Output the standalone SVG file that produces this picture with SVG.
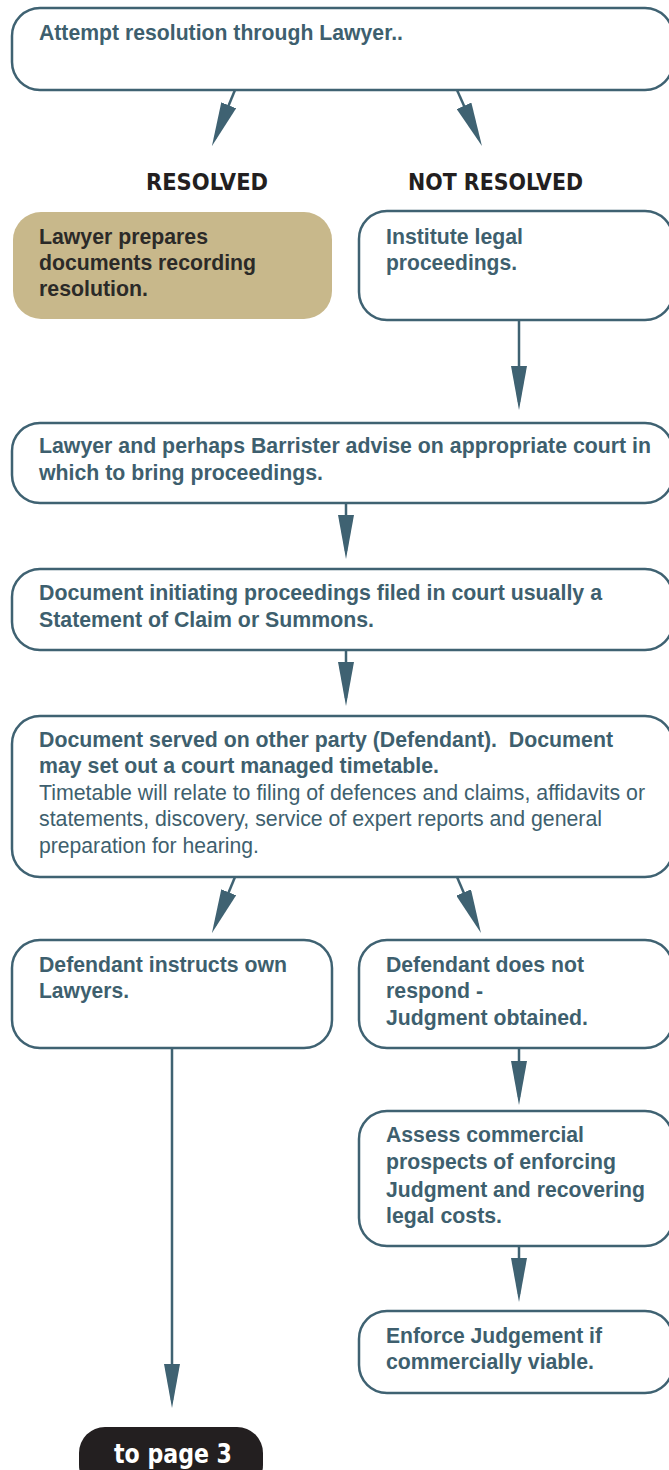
<svg xmlns="http://www.w3.org/2000/svg" width="669" height="1470" viewBox="0 0 669 1470">
<style>
.box{fill:#ffffff;stroke:#3f6272;stroke-width:2.5}
.tan{fill:#c8b88b;stroke:none}
.t{font-family:'Liberation Sans',Arial,Helvetica,sans-serif;font-size:21.3px;font-weight:700;fill:#3e5f6e}
.r{font-family:'Liberation Sans',Arial,Helvetica,sans-serif;font-size:21.3px;font-weight:400;fill:#3e5f6e}
.dk{fill:#2b2a28}
.hd{font-family:'DejaVu Sans Condensed','DejaVu Sans',sans-serif;font-size:23px;font-weight:700;fill:#231f20}
.pg{font-family:'DejaVu Sans Condensed','DejaVu Sans',sans-serif;font-size:27px;font-weight:700;fill:#ffffff}
.ln{stroke:#3f6272;stroke-width:2.5;fill:none;marker-end:url(#ah)}
</style>
<defs>
<marker id="ah" markerUnits="userSpaceOnUse" markerWidth="44" markerHeight="16" refX="36" refY="8" orient="auto" viewBox="0 0 44 16">
<path d="M0,0 L44,8 L0,16 z" fill="#3f6272"/>
</marker>
</defs>
<rect width="669" height="1470" fill="#ffffff"/>

<g id="connectors">
<line class="ln" x1="235" y1="90" x2="215" y2="138.6"/>
<line class="ln" x1="457" y1="90" x2="478.7" y2="138.7"/>
<line class="ln" x1="519" y1="320" x2="519" y2="402"/>
<line class="ln" x1="346" y1="503" x2="346" y2="551"/>
<line class="ln" x1="346" y1="650" x2="346" y2="698"/>
<line class="ln" x1="235" y1="877" x2="215" y2="925.6"/>
<line class="ln" x1="457" y1="877" x2="477.8" y2="925.6"/>
<line class="ln" x1="519" y1="1048" x2="519" y2="1097"/>
<line class="ln" x1="519" y1="1246" x2="519" y2="1294"/>
<line class="ln" x1="172" y1="1048" x2="172" y2="1400"/>
</g>

<g id="attempt">
<rect class="box" x="12" y="8" width="661" height="82" rx="28"/>
<text class="t" x="39" y="40" textLength="364" lengthAdjust="spacingAndGlyphs">Attempt resolution through Lawyer..</text>
</g>

<g id="label-resolved">
<text class="hd" x="146" y="190" textLength="122" lengthAdjust="spacingAndGlyphs">RESOLVED</text>
</g>
<g id="label-not-resolved">
<text class="hd" x="408" y="190" textLength="175" lengthAdjust="spacingAndGlyphs">NOT RESOLVED</text>
</g>

<g id="lawyer-prepares">
<rect class="tan" x="13" y="212" width="319" height="107" rx="28"/>
<text class="t dk" x="39" y="244" textLength="169" lengthAdjust="spacingAndGlyphs">Lawyer prepares</text>
<text class="t dk" x="39" y="270" textLength="217" lengthAdjust="spacingAndGlyphs">documents recording</text>
<text class="t dk" x="39" y="296" textLength="109" lengthAdjust="spacingAndGlyphs">resolution.</text>
</g>

<g id="institute">
<rect class="box" x="359" y="211" width="314" height="109" rx="28"/>
<text class="t" x="386" y="244" textLength="137" lengthAdjust="spacingAndGlyphs">Institute legal</text>
<text class="t" x="386" y="270" textLength="131" lengthAdjust="spacingAndGlyphs">proceedings.</text>
</g>

<g id="advise">
<rect class="box" x="12" y="423" width="661" height="80" rx="28"/>
<text class="t" x="39" y="453" textLength="612" lengthAdjust="spacingAndGlyphs">Lawyer and perhaps Barrister advise on appropriate court in</text>
<text class="t" x="39" y="480" textLength="284" lengthAdjust="spacingAndGlyphs">which to bring proceedings.</text>
</g>

<g id="initiating">
<rect class="box" x="12" y="569" width="661" height="81" rx="28"/>
<text class="t" x="39" y="600" textLength="563" lengthAdjust="spacingAndGlyphs">Document initiating proceedings filed in court usually a</text>
<text class="t" x="39" y="627" textLength="335" lengthAdjust="spacingAndGlyphs">Statement of Claim or Summons.</text>
</g>

<g id="served">
<rect class="box" x="12" y="716" width="661" height="161" rx="28"/>
<text class="t" x="39" y="747" textLength="574" lengthAdjust="spacingAndGlyphs" xml:space="preserve">Document served on other party (Defendant).  Document</text>
<text class="t" x="39" y="773" textLength="400" lengthAdjust="spacingAndGlyphs">may set out a court managed timetable.</text>
<text class="r" x="39" y="800" textLength="606" lengthAdjust="spacingAndGlyphs">Timetable will relate to filing of defences and claims, affidavits or</text>
<text class="r" x="39" y="826" textLength="563" lengthAdjust="spacingAndGlyphs">statements, discovery, service of expert reports and general</text>
<text class="r" x="39" y="853" textLength="220" lengthAdjust="spacingAndGlyphs">preparation for hearing.</text>
</g>

<g id="instructs">
<rect class="box" x="12" y="940" width="320" height="108" rx="28"/>
<text class="t" x="39" y="972" textLength="248" lengthAdjust="spacingAndGlyphs">Defendant instructs own</text>
<text class="t" x="39" y="998" textLength="90" lengthAdjust="spacingAndGlyphs">Lawyers.</text>
</g>

<g id="no-response">
<rect class="box" x="359" y="940" width="314" height="108" rx="28"/>
<text class="t" x="386" y="972" textLength="198" lengthAdjust="spacingAndGlyphs">Defendant does not</text>
<text class="t" x="386" y="998" textLength="97" lengthAdjust="spacingAndGlyphs">respond -</text>
<text class="t" x="386" y="1025" textLength="202" lengthAdjust="spacingAndGlyphs">Judgment obtained.</text>
</g>

<g id="assess">
<rect class="box" x="359" y="1111" width="314" height="135" rx="28"/>
<text class="t" x="386" y="1142" textLength="198" lengthAdjust="spacingAndGlyphs">Assess commercial</text>
<text class="t" x="386" y="1169" textLength="230" lengthAdjust="spacingAndGlyphs">prospects of enforcing</text>
<text class="t" x="386" y="1197" textLength="259" lengthAdjust="spacingAndGlyphs">Judgment and recovering</text>
<text class="t" x="386" y="1223" textLength="116" lengthAdjust="spacingAndGlyphs">legal costs.</text>
</g>

<g id="enforce">
<rect class="box" x="359" y="1311" width="314" height="82" rx="28"/>
<text class="t" x="386" y="1343" textLength="216" lengthAdjust="spacingAndGlyphs">Enforce Judgement if</text>
<text class="t" x="386" y="1369" textLength="208" lengthAdjust="spacingAndGlyphs">commercially viable.</text>
</g>

<g id="to-page-3">
<rect x="79" y="1427" width="184" height="64" rx="26" fill="#231f20"/>
<text class="pg" x="114" y="1463" textLength="118" lengthAdjust="spacingAndGlyphs">to page 3</text>
</g>
</svg>
